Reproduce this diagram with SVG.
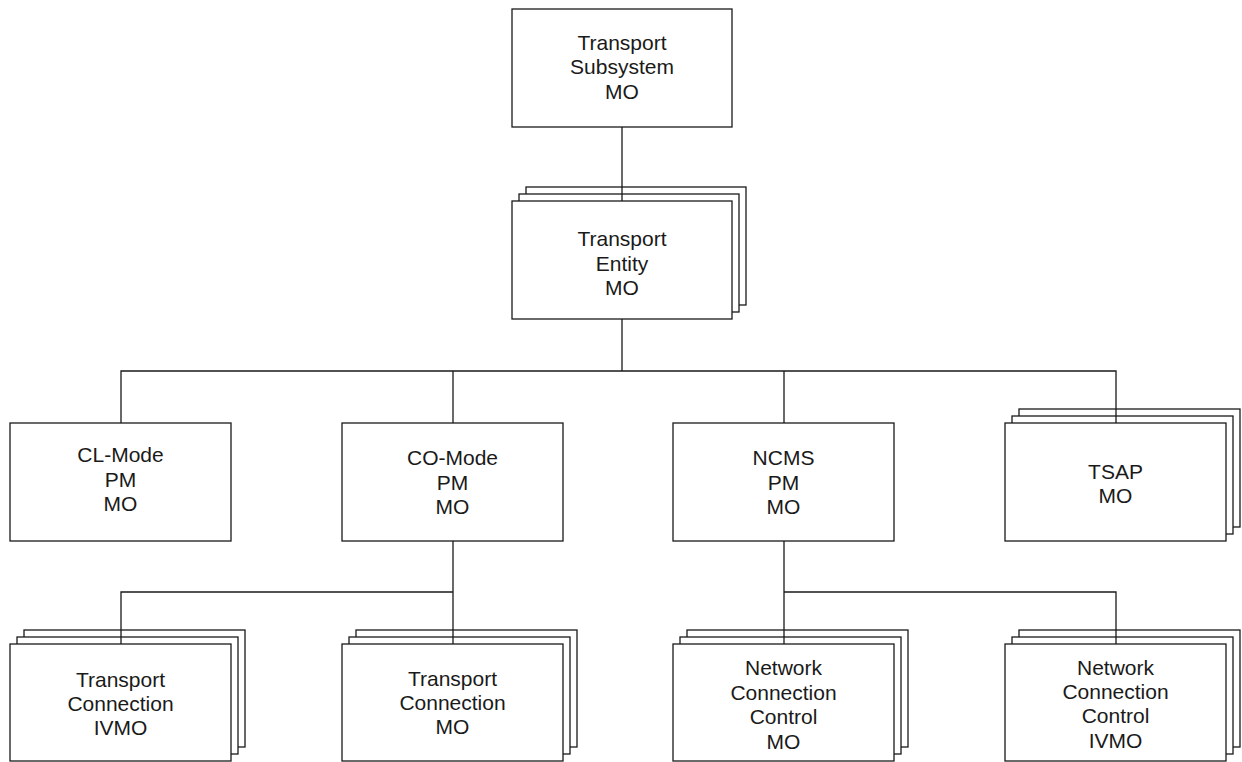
<svg xmlns="http://www.w3.org/2000/svg" width="1242" height="762" viewBox="0 0 1242 762">
<style>
.box{fill:#fff;stroke:#1a1a1a;stroke-width:1.3}
.lbl{font-family:"Liberation Sans",Arial,sans-serif;font-size:21px;fill:#1a1a1a;text-anchor:middle}
.con{fill:none;stroke:#1a1a1a;stroke-width:1.3}
</style>
<rect width="1242" height="762" fill="#fff"/>
<g id="transport-subsystem">
<rect class="box" x="512" y="9" width="220" height="118"/>
<text class="lbl" x="622" y="50">Transport</text>
<text class="lbl" x="622" y="74">Subsystem</text>
<text class="lbl" x="622" y="99">MO</text>
</g>
<g id="transport-entity">
<rect class="box" x="526" y="187" width="220" height="118"/>
<rect class="box" x="519" y="194" width="220" height="118"/>
<rect class="box" x="512" y="201" width="220" height="118"/>
<text class="lbl" x="622" y="246">Transport</text>
<text class="lbl" x="622" y="271">Entity</text>
<text class="lbl" x="622" y="295">MO</text>
</g>
<g id="cl-mode">
<rect class="box" x="10" y="423" width="221" height="118"/>
<text class="lbl" x="120.5" y="462">CL-Mode</text>
<text class="lbl" x="120.5" y="487">PM</text>
<text class="lbl" x="120.5" y="511">MO</text>
</g>
<g id="co-mode">
<rect class="box" x="342" y="423" width="221" height="118"/>
<text class="lbl" x="452.5" y="465">CO-Mode</text>
<text class="lbl" x="452.5" y="490">PM</text>
<text class="lbl" x="452.5" y="514">MO</text>
</g>
<g id="ncms">
<rect class="box" x="673" y="423" width="221" height="118"/>
<text class="lbl" x="783.5" y="465">NCMS</text>
<text class="lbl" x="783.5" y="490">PM</text>
<text class="lbl" x="783.5" y="514">MO</text>
</g>
<g id="tsap">
<rect class="box" x="1019" y="409" width="221" height="118"/>
<rect class="box" x="1012" y="416" width="221" height="118"/>
<rect class="box" x="1005" y="423" width="221" height="118"/>
<text class="lbl" x="1115.5" y="479">TSAP</text>
<text class="lbl" x="1115.5" y="503">MO</text>
</g>
<g id="transport-connection-ivmo">
<rect class="box" x="24" y="630" width="221" height="117"/>
<rect class="box" x="17" y="637" width="221" height="117"/>
<rect class="box" x="10" y="644" width="221" height="117"/>
<text class="lbl" x="120.5" y="687">Transport</text>
<text class="lbl" x="120.5" y="711">Connection</text>
<text class="lbl" x="120.5" y="735">IVMO</text>
</g>
<g id="transport-connection-mo">
<rect class="box" x="356" y="630" width="221" height="117"/>
<rect class="box" x="349" y="637" width="221" height="117"/>
<rect class="box" x="342" y="644" width="221" height="117"/>
<text class="lbl" x="452.5" y="686">Transport</text>
<text class="lbl" x="452.5" y="710">Connection</text>
<text class="lbl" x="452.5" y="734">MO</text>
</g>
<g id="ncc-mo">
<rect class="box" x="687" y="630" width="221" height="117"/>
<rect class="box" x="680" y="637" width="221" height="117"/>
<rect class="box" x="673" y="644" width="221" height="117"/>
<text class="lbl" x="783.5" y="675">Network</text>
<text class="lbl" x="783.5" y="700">Connection</text>
<text class="lbl" x="783.5" y="724">Control</text>
<text class="lbl" x="783.5" y="749">MO</text>
</g>
<g id="ncc-ivmo">
<rect class="box" x="1019" y="630" width="221" height="117"/>
<rect class="box" x="1012" y="637" width="221" height="117"/>
<rect class="box" x="1005" y="644" width="221" height="117"/>
<text class="lbl" x="1115.5" y="675">Network</text>
<text class="lbl" x="1115.5" y="699">Connection</text>
<text class="lbl" x="1115.5" y="723">Control</text>
<text class="lbl" x="1115.5" y="748">IVMO</text>
</g>
<g id="connectors">
<path class="con" d="M622 127V201"/>
<path class="con" d="M622 319V371"/>
<path class="con" d="M121 423V371H1116V423"/>
<path class="con" d="M453 371V423"/>
<path class="con" d="M784 371V423"/>
<path class="con" d="M453 541V644"/>
<path class="con" d="M121 644V592H453"/>
<path class="con" d="M784 541V644"/>
<path class="con" d="M784 592H1116V644"/>
</g>
</svg>
